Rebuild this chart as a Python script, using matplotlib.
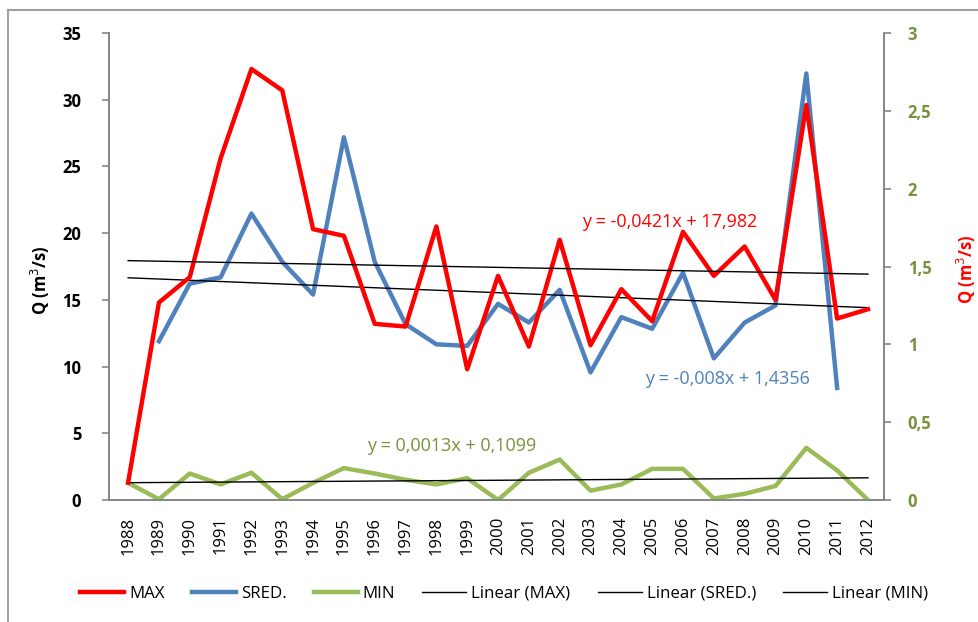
import numpy as np
import matplotlib.pyplot as plt
from matplotlib.lines import Line2D

# years 1988..2012
years = list(range(1988, 2013))

# MAX (left axis)
q_max = [1.3, 14.8, 16.7, 25.6, 32.3, 30.7, 20.3, 19.8, 13.2, 13.0, 20.5, 9.8, 16.8,
         11.5, 19.5, 11.6, 15.8, 13.4, 20.1, 16.8, 19.0, 15.0, 29.6, 13.6, 14.3]
# SRED. (right axis), no value for 1988 and 2012
q_sred = [np.nan, 1.02, 1.39, 1.43, 1.84, 1.53, 1.32, 2.33, 1.53, 1.13, 1.00, 0.99, 1.26,
          1.14, 1.35, 0.82, 1.175, 1.10, 1.46, 0.91, 1.14, 1.25, 2.74, 0.72, np.nan]
# MIN (right axis)
q_min = [0.11, 0.005, 0.17, 0.10, 0.175, 0.005, 0.11, 0.205, 0.17, 0.13, 0.10, 0.14, 0.0,
         0.175, 0.26, 0.06, 0.10, 0.20, 0.20, 0.01, 0.04, 0.09, 0.335, 0.19, 0.0]

# Excel trendlines (x = 1..n)
trend_max = (-0.0421, 17.982)
trend_sred = (-0.008, 1.4356)
trend_min = (0.0013, 0.1099)

RED = '#FF0000'
BLUE = '#4F81BD'
GREEN = '#9BBB59'
DKGREEN = '#77933C'
GRAY = '#868686'

plt.rcParams['font.family'] = ['Open Sans', 'DejaVu Sans']

fig = plt.figure(figsize=(9.79, 6.22), dpi=100)
ax = fig.add_axes([109 / 979, 1 - 500 / 622, (884 - 109) / 979, (500 - 33) / 622])
ax2 = ax.twinx()

idx = np.arange(1, len(years) + 1)

ax.plot(years, q_max, color=RED, lw=3.2, zorder=3)
ax.plot(years, trend_max[0] * idx + trend_max[1], color='black', lw=1, zorder=4)
ax2.plot(years, q_sred, color=BLUE, lw=3.2, zorder=2)
ax2.plot(years, q_min, color=GREEN, lw=3.2, zorder=2)
ax2.plot(years, trend_sred[0] * idx + trend_sred[1], color='black', lw=1, zorder=4)
ax2.plot(years, trend_min[0] * idx + trend_min[1], color='black', lw=1, zorder=4)

# keep the red line on top of the twin axis
ax.set_zorder(ax2.get_zorder() + 1)
ax.patch.set_visible(False)

ax.set_xlim(1987.38, 2012.52)
ax.set_ylim(0, 35)
ax2.set_ylim(0, 3)

ax.set_xticks(years)
ax.set_xticklabels([str(y) for y in years], rotation=90, fontsize=12)
ax.tick_params(axis='x', length=0, pad=12)
ax2.tick_params(axis='x', length=0)

ax.set_yticks(range(0, 36, 5))
ax.set_yticklabels([str(v) for v in range(0, 36, 5)], fontsize=12, fontweight='bold')
ax.tick_params(axis='y', length=5, color=GRAY, pad=15, width=1.2)

r_ticks = [0, 0.5, 1, 1.5, 2, 2.5, 3]
ax2.set_yticks(r_ticks)
ax2.set_yticklabels(['0', '0,5', '1', '1,5', '2', '2,5', '3'], fontsize=12,
                    fontweight='bold', color=DKGREEN)
ax2.tick_params(axis='y', length=5, color=GRAY, pad=12, width=1.2)

for a in (ax, ax2):
    a.spines['top'].set_visible(False)
    for s in ('left', 'right', 'bottom'):
        a.spines[s].set_color(GRAY)
        a.spines[s].set_linewidth(1.2)

ax.set_ylabel('Q (m$^3$/s)', fontsize=12, fontweight='bold')
ax.yaxis.set_label_coords(-0.0735, 0.471)
ax2.set_ylabel('Q (m$^3$/s)', fontsize=12, fontweight='bold', color=RED)
ax2.yaxis.set_label_coords(1.0916, 0.495)

# trendline equations
ax.text(2005.58, 20.84, 'y = -0,0421x + 17,982', color=RED, fontsize=13, ha='center', va='center')
ax2.text(2007.43, 0.777, 'y = -0,008x + 1,4356', color=BLUE, fontsize=13, ha='center', va='center')
ax2.text(1998.5, 0.347, 'y = 0,0013x + 0,1099', color=DKGREEN, fontsize=13, ha='center', va='center')

handles = [Line2D([], [], color=RED, lw=3.2), Line2D([], [], color=BLUE, lw=3.2),
           Line2D([], [], color=GREEN, lw=3.2), Line2D([], [], color='black', lw=1),
           Line2D([], [], color='black', lw=1), Line2D([], [], color='black', lw=1)]
labels = ['MAX', 'SRED.', 'MIN', 'Linear (MAX)', 'Linear (SRED.)', 'Linear (MIN)']
fig.legend(handles, labels, loc='center', bbox_to_anchor=(0.515, 1 - 594 / 622), ncol=6,
           frameon=False, fontsize=12.2, handlelength=2.6, columnspacing=1.6, handletextpad=0.3)

# chart area border (top and left visible)
fig.add_artist(Line2D([8 / 979, 1.0], [1 - 10 / 622, 1 - 10 / 622], color='#A0A0A0', lw=1.5,
                      transform=fig.transFigure))
fig.add_artist(Line2D([8 / 979, 8 / 979], [0, 1 - 10 / 622], color='#A0A0A0', lw=1.5,
                      transform=fig.transFigure))

fig.savefig('out.png', dpi=100)
